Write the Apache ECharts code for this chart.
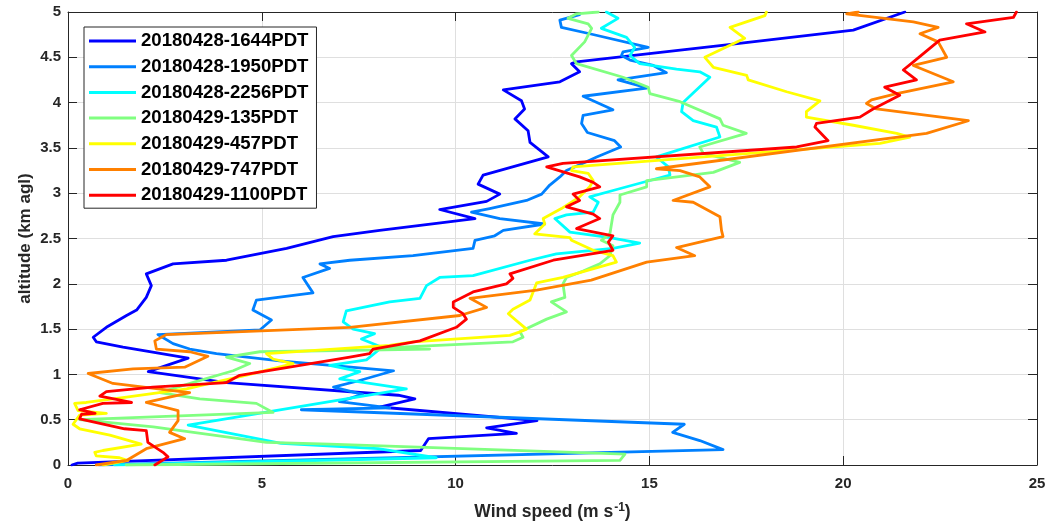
<!DOCTYPE html>
<html>
<head>
<meta charset="utf-8">
<script src="https://cdn.jsdelivr.net/npm/echarts@6/dist/echarts.min.js"></script>
<style>
  html, body { margin: 0; padding: 0; background: #fff; }
  #chart { width: 1054px; height: 521px; }
</style>
</head>
<body>
<div id="chart"></div>
<script>
// Wind speed profiles: each point is [wind speed (m/s), altitude (km agl)]
const profileNames = [
  '20180428-1644PDT', '20180428-1950PDT', '20180428-2256PDT',
  '20180429-135PDT', '20180429-457PDT', '20180429-747PDT', '20180429-1100PDT'
];
const profileColors = ['#0000ff', '#0080ff', '#00ffff', '#80ff80', '#ffff00', '#ff8000', '#ff0000'];

const p1644 = [[0.1,0.0],[0.25,0.02],[9.1,0.16],[9.3,0.29],[11.57,0.35],[10.8,0.41],[12.1,0.49],[8.04,0.64],[8.95,0.73],[8.52,0.77],[4.09,0.91],[2.07,1.03],[3.1,1.18],[1.42,1.30],[0.73,1.36],[0.65,1.41],[0.99,1.52],[1.51,1.65],[1.77,1.71],[2.02,1.85],[2.15,1.98],[2.02,2.11],[2.71,2.22],[4.09,2.26],[5.64,2.39],[6.84,2.52],[8.04,2.59],[10.5,2.72],[9.59,2.82],[10.8,2.91],[11.14,2.99],[10.58,3.10],[10.71,3.20],[12.39,3.40],[11.92,3.56],[11.87,3.69],[11.53,3.82],[11.78,3.93],[11.7,4.02],[11.23,4.14],[12.69,4.23],[13.2,4.34],[12.99,4.43],[13.12,4.45],[16.82,4.63],[20.26,4.80],[21.59,5.0]];

const p1950 = [[0.8,0.0],[16.9,0.17],[16.3,0.27],[15.6,0.36],[15.9,0.45],[6.02,0.61],[8.3,0.63],[7.0,0.70],[7.6,0.78],[6.85,0.86],[7.5,0.93],[8.4,1.04],[5.46,1.15],[3.83,1.23],[3.14,1.28],[2.71,1.34],[2.32,1.44],[4.95,1.49],[5.25,1.60],[4.77,1.71],[4.86,1.82],[6.32,1.90],[6.06,2.07],[6.75,2.17],[6.5,2.22],[7.27,2.26],[8.9,2.31],[10.45,2.39],[10.5,2.48],[11.01,2.53],[11.23,2.59],[12.3,2.66],[11.14,2.72],[10.41,2.79],[10.88,2.83],[11.83,2.92],[12.22,2.99],[12.43,3.09],[12.69,3.18],[12.86,3.25],[13.29,3.33],[13.64,3.40],[14.26,3.51],[14.1,3.58],[13.4,3.67],[13.25,3.77],[13.29,3.86],[14.06,3.92],[13.29,4.07],[14.93,4.16],[14.71,4.19],[14.19,4.25],[15.44,4.33],[15.1,4.41],[14.5,4.47],[14.28,4.52],[14.32,4.56],[14.97,4.61],[13.46,4.76],[12.73,4.83],[12.69,4.91],[13.2,4.97]];

const p2256 = [[1.2,0.0],[9.5,0.08],[8.0,0.18],[5.5,0.24],[3.1,0.44],[8.73,0.84],[7.01,0.95],[7.53,1.03],[6.75,1.10],[7.7,1.16],[8.1,1.30],[7.57,1.39],[7.91,1.45],[7.36,1.50],[7.1,1.58],[7.18,1.70],[8.3,1.80],[9.08,1.84],[9.25,1.98],[9.59,2.07],[10.45,2.09],[11.92,2.26],[12.6,2.33],[14.06,2.39],[14.75,2.45],[13.98,2.51],[12.95,2.57],[12.56,2.72],[12.86,2.76],[13.55,2.79],[13.68,2.90],[13.46,2.96],[14.06,3.03],[15.01,3.14],[15.53,3.20],[15.49,3.29],[15.18,3.40],[16.82,3.62],[16.73,3.73],[16.13,3.80],[15.83,3.90],[15.87,4.0],[16.56,4.28],[16.3,4.34],[15.7,4.37],[14.75,4.43],[14.5,4.52],[14.62,4.61],[14.41,4.72],[13.76,4.82],[14.19,4.93],[13.89,5.0]];

const p135 = [[1.5,0.0],[14.24,0.05],[14.37,0.12],[6.75,0.23],[5.12,0.25],[2.2,0.42],[0.3,0.50],[5.29,0.58],[4.86,0.68],[3.4,0.73],[2.37,0.80],[3.3,0.92],[4.26,1.04],[4.69,1.12],[4.09,1.19],[4.95,1.25],[9.33,1.28],[8.04,1.29],[11.48,1.36],[11.74,1.41],[11.66,1.47],[12.35,1.61],[12.86,1.69],[12.47,1.80],[12.82,1.85],[12.77,2.0],[12.86,2.07],[13.29,2.14],[13.72,2.22],[13.98,2.31],[14.06,2.42],[13.76,2.48],[13.98,2.55],[14.06,2.76],[14.24,2.90],[14.24,2.98],[14.93,3.07],[14.93,3.14],[16.65,3.23],[17.33,3.34],[16.39,3.44],[16.3,3.51],[17.5,3.66],[16.9,3.75],[16.82,3.82],[15.79,4.01],[15.01,4.10],[14.97,4.17],[14.32,4.28],[13.12,4.43],[12.99,4.52],[13.33,4.67],[13.51,4.82],[13.42,4.87],[12.9,4.93],[13.12,4.98],[13.68,5.0]];

const p457 = [[0.9,0.0],[1.55,0.05],[1.33,0.08],[0.73,0.10],[0.69,0.14],[0.9,0.16],[1.89,0.23],[1.08,0.33],[0.30,0.40],[0.13,0.45],[0.30,0.55],[0.99,0.57],[0.26,0.60],[0.17,0.68],[0.47,0.69],[1.51,0.75],[3.06,0.84],[3.66,0.90],[4.5,0.98],[5.81,1.12],[5.29,1.17],[5.12,1.23],[8.3,1.32],[8.9,1.36],[11.4,1.43],[11.66,1.47],[11.83,1.50],[11.66,1.56],[11.36,1.67],[11.48,1.72],[11.92,1.82],[12.0,1.91],[12.09,2.01],[12.77,2.07],[14.15,2.24],[14.06,2.31],[13.55,2.37],[12.99,2.48],[12.95,2.51],[12.04,2.55],[12.3,2.66],[12.26,2.72],[12.73,2.83],[13.2,2.96],[13.46,3.07],[13.55,3.14],[13.42,3.22],[12.99,3.25],[13.03,3.29],[20.95,3.55],[21.72,3.62],[21.38,3.66],[20.26,3.75],[19.05,3.84],[19.05,3.90],[19.4,4.02],[18.54,4.12],[17.55,4.25],[17.51,4.30],[16.65,4.39],[16.43,4.50],[17.46,4.71],[17.08,4.83],[17.98,4.96],[18.02,5.0]];

const p747 = [[0.73,0.0],[1.51,0.05],[2.02,0.18],[3.01,0.29],[2.62,0.36],[2.84,0.49],[2.84,0.60],[2.02,0.69],[3.14,0.80],[2.54,0.83],[1.16,0.90],[0.52,1.01],[1.68,1.06],[3.01,1.08],[3.61,1.20],[3.14,1.25],[2.28,1.28],[2.24,1.37],[2.54,1.44],[7.27,1.52],[10.11,1.65],[10.8,1.74],[10.37,1.84],[12.09,1.93],[13.5,2.04],[14.93,2.24],[16.17,2.31],[15.7,2.40],[16.9,2.52],[16.86,2.59],[16.82,2.74],[16.13,2.90],[15.61,2.92],[16.56,3.07],[16.3,3.18],[15.79,3.25],[15.18,3.27],[22.15,3.66],[23.23,3.80],[20.86,3.93],[20.6,3.99],[20.73,4.03],[21.38,4.10],[22.84,4.23],[21.81,4.41],[22.67,4.50],[22.45,4.67],[21.98,4.76],[22.45,4.83],[21.81,4.89],[20.09,4.98],[20.39,5.0]];

const p1100 = [[2.24,0.0],[2.58,0.09],[2.45,0.14],[2.06,0.25],[2.02,0.38],[1.46,0.40],[0.30,0.51],[0.35,0.56],[0.7,0.57],[0.3,0.61],[0.9,0.68],[1.64,0.69],[0.82,0.76],[0.99,0.81],[2.19,0.86],[4.09,0.91],[4.43,0.99],[7.27,1.19],[7.78,1.23],[7.87,1.28],[9.08,1.37],[10.02,1.52],[10.28,1.61],[10.19,1.67],[9.94,1.74],[9.94,1.80],[10.45,1.91],[11.31,2.0],[11.48,2.06],[11.4,2.11],[12.52,2.26],[14.06,2.37],[13.94,2.46],[14.06,2.53],[13.12,2.61],[13.72,2.72],[13.55,2.77],[12.86,2.85],[13.2,2.92],[13.03,2.99],[13.72,3.07],[13.55,3.12],[13.2,3.18],[12.35,3.29],[12.77,3.33],[18.8,3.51],[19.61,3.58],[19.27,3.73],[19.31,3.77],[20.43,3.84],[20.77,3.93],[21.46,4.08],[21.07,4.17],[21.89,4.25],[21.55,4.36],[21.81,4.45],[22.49,4.69],[23.66,4.78],[23.18,4.87],[24.39,4.94],[24.47,5.0]];

const profiles = [p1644, p1950, p2256, p135, p457, p747, p1100];

const speedTicks = { min: 0, max: 25, interval: 5 };
const altTicks = { min: 0, max: 5, interval: 0.5 };

const FONT = '"Liberation Sans", Arial, Helvetica, sans-serif';
const AXIS_COLOR = '#262626';
const GRID_COLOR = '#dfdfdf';

const chart = echarts.init(document.getElementById('chart'), null, { renderer: 'canvas' });

const baseAxis = {
  type: 'value',
  axisLine: { show: true, onZero: false, lineStyle: { color: AXIS_COLOR, width: 1 } },
  axisTick: { show: true, inside: true, length: 9, lineStyle: { color: AXIS_COLOR, width: 1 } },
};

const option = {
  animation: false,
  backgroundColor: '#ffffff',
  textStyle: { fontFamily: FONT },
  grid: { left: 68, top: 12, width: 969, height: 453, containLabel: false, outerBoundsMode: 'none' },
  legend: {
    orient: 'vertical',
    left: 84,
    top: 27,
    data: profileNames,
    icon: 'rect',
    backgroundColor: '#ffffff',
    borderColor: AXIS_COLOR,
    borderWidth: 1,
    borderRadius: 0,
    padding: [4, 8, 3, 5],
    itemWidth: 47,
    itemHeight: 3,
    itemGap: 5.7,
    textStyle: { fontFamily: FONT, fontSize: 18.6, fontWeight: 'bold', color: '#000', lineHeight: 20 }
  },
  xAxis: [
    Object.assign({}, baseAxis, speedTicks, {
      position: 'bottom',
      name: '{t|Wind speed (m s}{s|-1}{t|)}',
      nameLocation: 'middle',
      nameGap: 37,
      nameMoveOverlap: false,
      nameTextStyle: {
        rich: {
          t: { fontFamily: FONT, fontSize: 17.5, fontWeight: 'bold', color: AXIS_COLOR, lineHeight: 20 },
          s: { fontFamily: FONT, fontSize: 12, fontWeight: 'bold', color: AXIS_COLOR, verticalAlign: 'top', lineHeight: 12, padding: [0, 0, 0, 1] }
        }
      },
      axisLabel: { margin: 11, fontFamily: FONT, fontSize: 15, fontWeight: 'bold', color: AXIS_COLOR },
      splitLine: { show: true, lineStyle: { color: GRID_COLOR, width: 1 } }
    }),
    Object.assign({}, baseAxis, speedTicks, {
      position: 'top',
      axisLabel: { show: false },
      splitLine: { show: false }
    })
  ],
  yAxis: [
    Object.assign({}, baseAxis, altTicks, {
      position: 'left',
      name: 'altitude (km agl)',
      nameLocation: 'middle',
      nameGap: 34,
      nameMoveOverlap: false,
      nameTextStyle: { fontFamily: FONT, fontSize: 17, fontWeight: 'bold', color: AXIS_COLOR },
      axisLabel: { margin: 7, fontFamily: FONT, fontSize: 15, fontWeight: 'bold', color: AXIS_COLOR },
      splitLine: { show: true, lineStyle: { color: GRID_COLOR, width: 1 } }
    }),
    Object.assign({}, baseAxis, altTicks, {
      position: 'right',
      axisLabel: { show: false },
      splitLine: { show: false }
    })
  ],
  series: profiles.map((pts, i) => ({
    name: profileNames[i],
    type: 'line',
    xAxisIndex: 0,
    yAxisIndex: 0,
    data: pts,
    symbol: 'none',
    showSymbol: false,
    smooth: false,
    clip: true,
    color: profileColors[i],
    lineStyle: { color: profileColors[i], width: 2.8, join: 'round', cap: 'round' },
    emphasis: { disabled: true }
  }))
};

chart.setOption(option);
</script>
</body>
</html>
